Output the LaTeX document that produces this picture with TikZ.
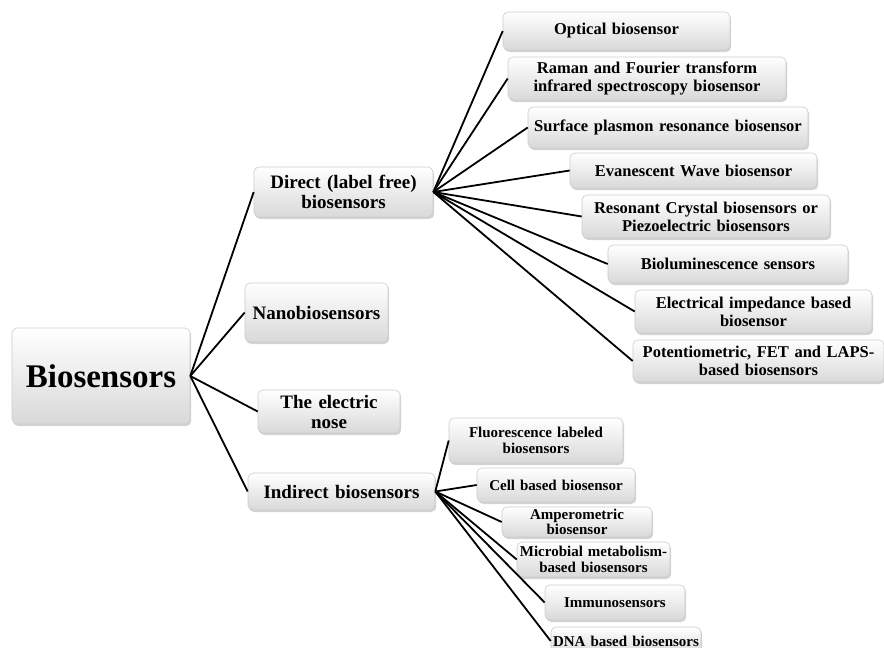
\documentclass[tikz,border=0pt]{standalone}
\usepackage{fontspec}
\setmainfont{Liberation Serif}[WordSpace=1.35]
\usetikzlibrary{shadows}
\begin{document}
\begin{tikzpicture}[x=1pt,y=-1pt,
  box/.style={rounded corners=5pt,draw=gray!40,line width=0.6pt,top color=white,bottom color=gray!30,
    drop shadow={shadow xshift=1.2pt,shadow yshift=-2pt,opacity=0.35},align=center,inner sep=2pt},
  top/.style={box,font={\bfseries\fontsize{33}{36}\selectfont}},
  mid/.style={box,font={\bfseries\fontsize{19}{20}\selectfont}},
  sub/.style={box,font={\bfseries\fontsize{16.5}{18}\selectfont}},
  small/.style={box,font={\bfseries\fontsize{15}{15.5}\selectfont}},
  link/.style={line width=1.8pt,black}]
\useasboundingbox (0,0) rectangle (884,648);
\node[top,minimum width=178pt,minimum height=96pt] (root) at (101,376) {Biosensors};
\node[mid,minimum width=179pt,minimum height=50pt] (direct) at (343.5,192) {Direct (label free)\\biosensors};
\node[mid,minimum width=143pt,minimum height=59pt] (nano) at (316.5,312.5) {Nanobiosensors};
\node[mid,minimum width=142pt,minimum height=43pt] (nose) at (329,411.5) {The electric\\nose};
\node[mid,minimum width=187pt,minimum height=37pt] (indirect) at (341.5,491.5) {Indirect biosensors};
\node[sub,minimum width=227pt,minimum height=38pt] (optical) at (616.5,31) {Optical biosensor};
\node[sub,minimum width=278pt,minimum height=43pt] (raman) at (647,78.5) {Raman and Fourier transform\\infrared spectroscopy biosensor};
\node[sub,minimum width=280pt,minimum height=41pt] (spr) at (668,127.5) {Surface plasmon resonance biosensor};
\node[sub,minimum width=247pt,minimum height=35pt] (evan) at (693.5,170.5) {Evanescent Wave biosensor};
\node[sub,minimum width=248pt,minimum height=43pt] (piezo) at (706,216.5) {Resonant Crystal biosensors or\\Piezoelectric biosensors};
\node[sub,minimum width=240pt,minimum height=38pt] (biolum) at (728,264) {Bioluminescence sensors};
\node[sub,minimum width=237pt,minimum height=43pt] (imped) at (753.5,311.5) {Electrical impedance based\\biosensor};
\node[sub,minimum width=251pt,minimum height=42pt] (fet) at (758.5,361) {Potentiometric, FET and LAPS-\\based biosensors};
\node[small,minimum width=174pt,minimum height=45pt] (fluor) at (536,440.5) {Fluorescence labeled\\biosensors};
\node[small,minimum width=158pt,minimum height=34pt] (cell) at (556,485) {Cell based biosensor};
\node[small,minimum width=150pt,minimum height=30pt] (amper) at (577,522) {Amperometric\\biosensor};
\node[small,minimum width=153pt,minimum height=35pt] (microb) at (593.5,559.5) {Microbial metabolism-\\based biosensors};
\node[small,minimum width=140pt,minimum height=35pt] (immuno) at (615,602.5) {Immunosensors};
\node[small,minimum width=148pt,minimum height=28pt] (dna) at (626,641) {DNA based biosensors};
\foreach \n in {direct,nano,nose,indirect} \draw[link] (root.east) -- (\n.west);
\foreach \n in {optical,raman,spr,evan,piezo,biolum,imped,fet} \draw[link] (direct.east) -- (\n.west);
\foreach \n in {fluor,cell,amper,microb,immuno,dna} \draw[link] (indirect.east) -- (\n.west);
\end{tikzpicture}
\end{document}
